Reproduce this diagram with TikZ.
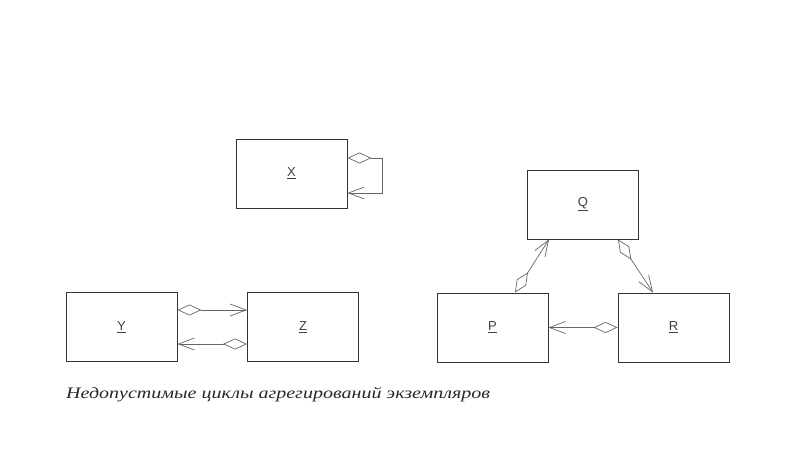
\documentclass[tikz,border=0pt]{standalone}
\usepackage{fontspec}
\setmainfont{Liberation Serif}
\newfontfamily\lblfont{Liberation Sans}
\newfontfamily\capfont[FakeStretch=1.25]{Liberation Serif}
\usetikzlibrary{arrows.meta,calc}
\tikzset{
  objbox/.style={draw=black!80, line width=0.9pt, minimum width=111pt, minimum height=69pt, inner sep=0pt, font=\lblfont\fontsize{13}{14}\selectfont, text=black!75},
  agg/.style={draw=black!60, line width=0.7pt, {Diamond[open,length=24pt,width=11pt,line width=0.7pt]}-{Straight Barb[length=16pt,width=12pt,line width=0.7pt]}},
}
\begin{document}
\begin{tikzpicture}[x=1pt,y=-1pt]
\useasboundingbox (0,0) rectangle (800,450);
\node[objbox] (X) at (291.5,173.5) {\underline{X}};
\node[objbox] (Y) at (121.5,327) {\underline{Y}};
\node[objbox] (Z) at (303,327) {\underline{Z}};
\node[objbox] (Q) at (583,204.5) {\underline{Q}};
\node[objbox] (P) at (492.5,327.5) {\underline{P}};
\node[objbox] (R) at (673.5,327.5) {\underline{R}};
% self loop on X
\coordinate (xl1) at ($(X.east)+(35,-15.5)$);
\coordinate (xl2) at ($(X.east)+(35,19.5)$);
\draw[agg] ($(X.east)+(0,-15.5)$) -- (xl1) -- (xl2) -- ($(X.east)+(0,19.5)$);
% Y <-> Z
\draw[agg] ($(Y.east)+(0,-17)$) -- ($(Z.west)+(0,-17)$);
\draw[agg] ($(Z.west)+(0,17)$) -- ($(Y.east)+(0,17)$);
% P, Q, R cycle
\draw[agg] ($(P.north)+(22.5,0)$) -- ($(Q.south)+(-34,0)$);
\draw[agg] ($(Q.south)+(35,0)$) -- ($(R.north)+(-20.5,0)$);
\draw[agg] (R.west) -- (P.east);
\node[anchor=base west, inner sep=0pt, font=\capfont\itshape\fontsize{16}{18}\selectfont, text=black!85] (cap) at (66,398) {Недопустимые циклы агрегирований экземпляров};
\end{tikzpicture}
\end{document}
